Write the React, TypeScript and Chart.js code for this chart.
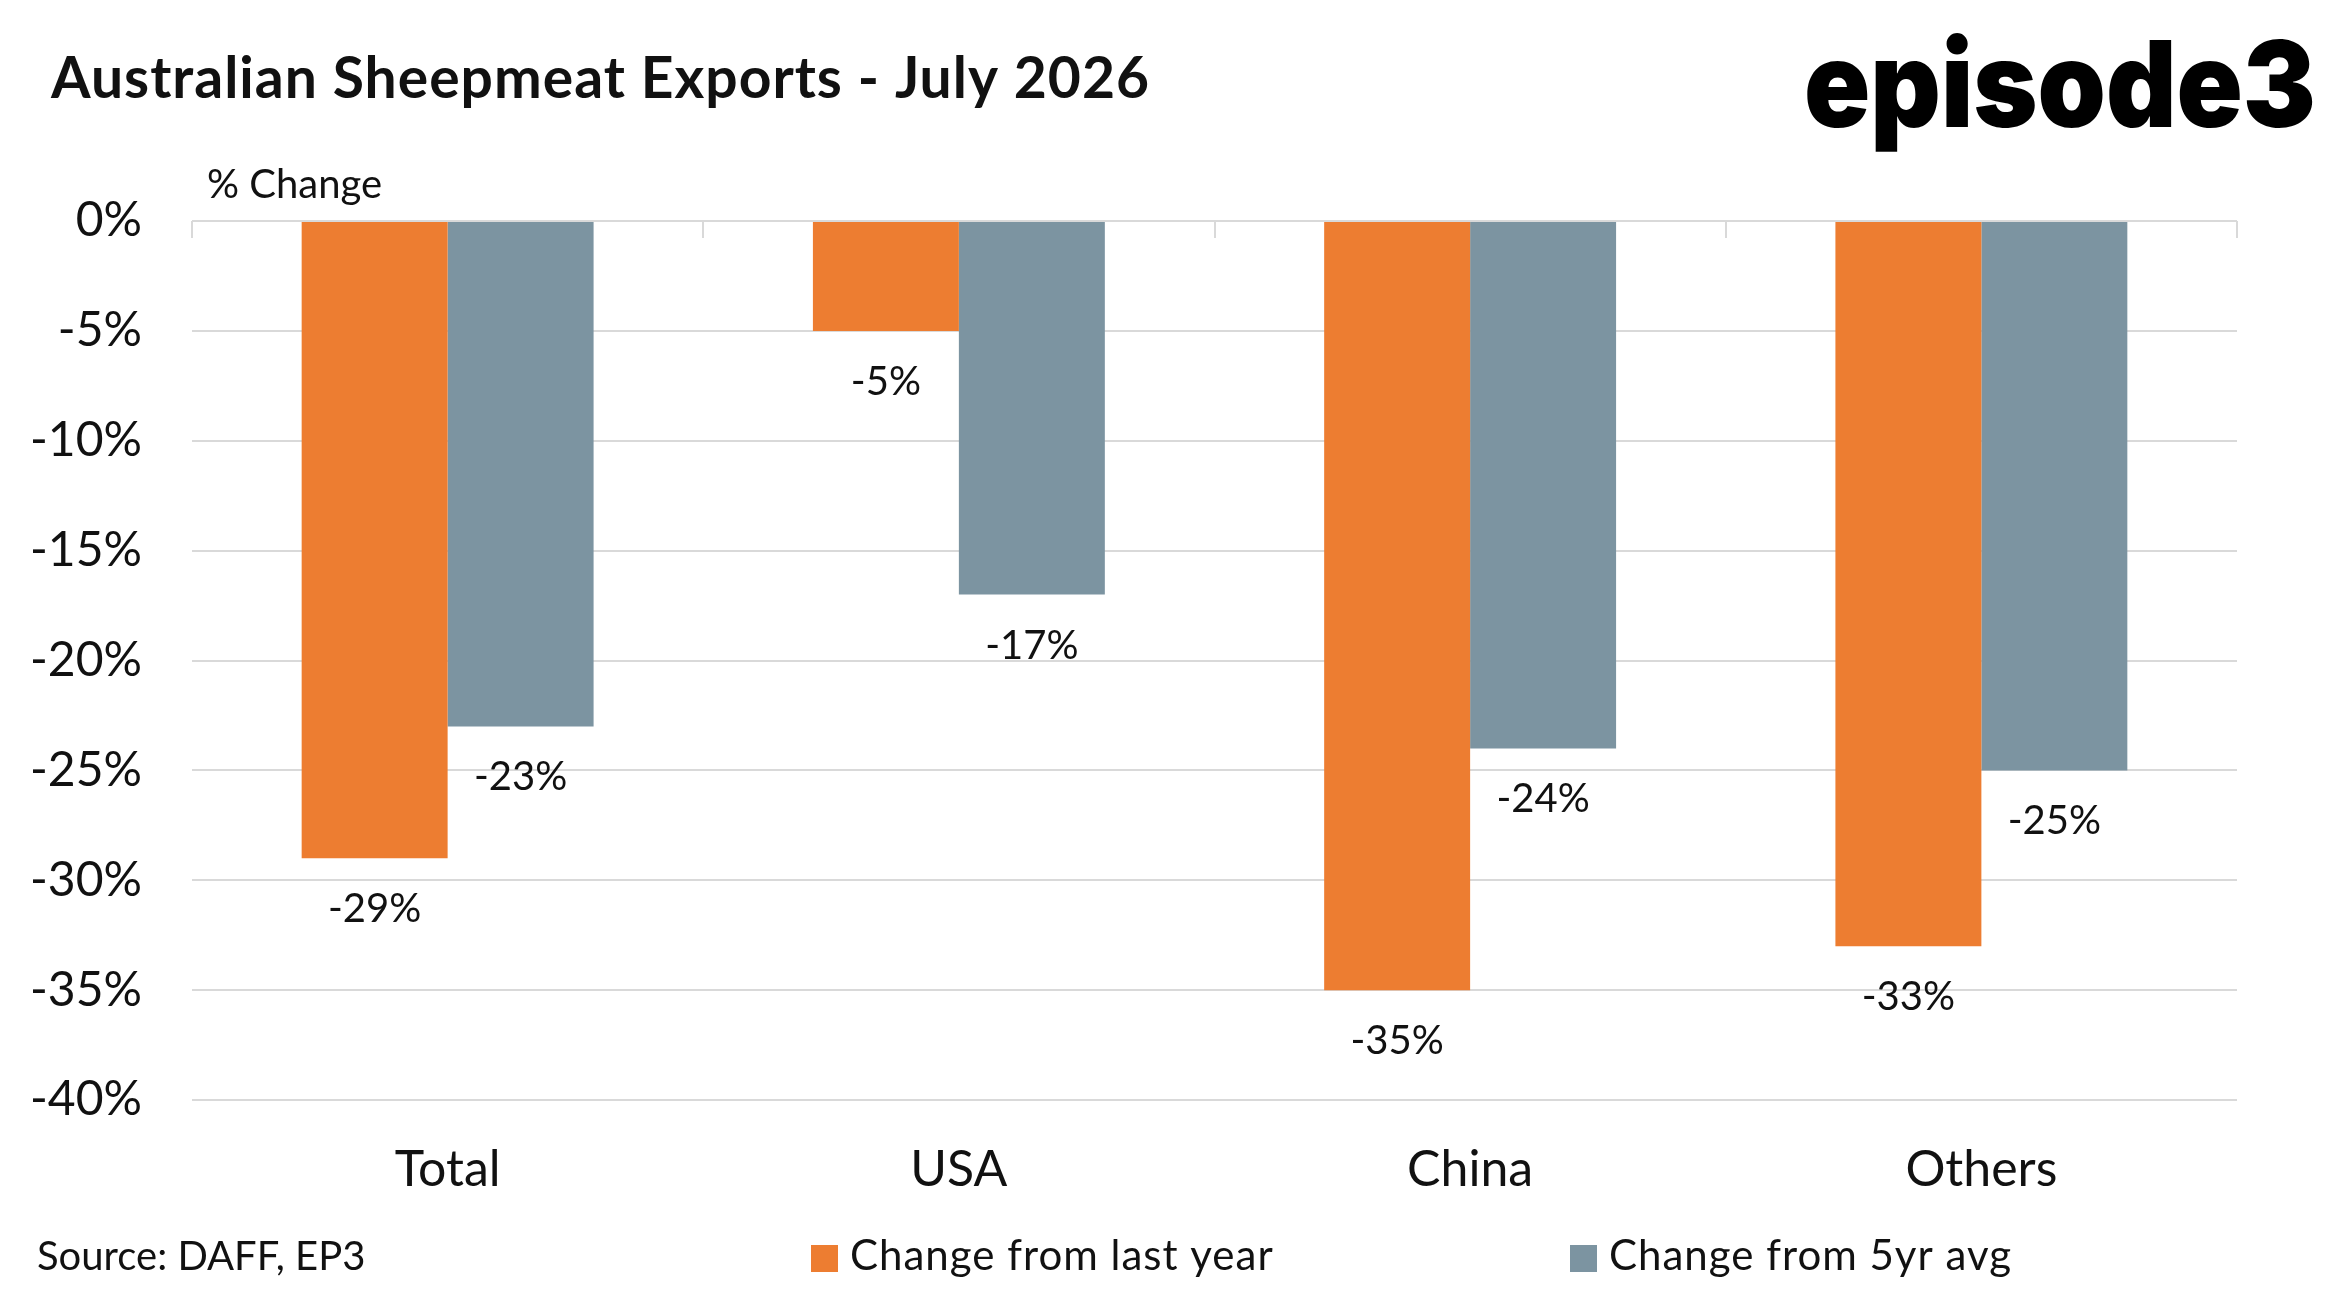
import React, { useEffect, useRef } from 'react';
import { Chart, registerables } from 'chart.js';

Chart.register(...registerables);

const categories = ['Total', 'USA', 'China', 'Others'];
const changeFromLastYear = [-29, -5, -35, -33];
const changeFrom5yrAvg = [-23, -17, -24, -25];
const seriesLabels = ['Change from last year', 'Change from 5yr avg'];
const yMin = -40;
const yMax = 0;
const yStep = 5;

const ORANGE = '#ED7D31';
const GREY = '#7C94A1';
const GRID = '#D9D9D9';
const TEXT = '#111111';
const FONT = 'Lato';

// title, logo, axis caption, source, legend, category ticks
const decorPlugin = {
    id: 'decor',
    afterDraw(chart: any) {
        const ctx = chart.ctx;
        const x = chart.scales.x;
        const y = chart.scales.y;
        ctx.save();
        ctx.fillStyle = TEXT;
        ctx.textAlign = 'left';
        ctx.textBaseline = 'alphabetic';

        ctx.font = `bold 57px ${FONT}`;
        ctx.letterSpacing = '1px';
        ctx.fillText('Australian Sheepmeat Exports - July 2026', 51, 98);
        ctx.letterSpacing = '0px';

        ctx.font = `40px ${FONT}`;
        ctx.fillText('% Change', 207, 198);
        ctx.fillText('Source: DAFF, EP3', 37, 1270);

        // logo
        ctx.font = `900 120px Inter`;
        const w = ctx.measureText('episode3').width;
        ctx.save();
        ctx.translate(1804, 127);
        ctx.scale(512 / w, 1);
        ctx.fillStyle = '#000';
        ctx.fillText('episode3', 0, 0);
        ctx.restore();

        // legend
        const legendX = [811, 1570];
        chart.data.datasets.forEach((ds: any, i: number) => {
            ctx.fillStyle = ds.backgroundColor;
            ctx.fillRect(legendX[i], 1245, 27, 27);
            ctx.fillStyle = TEXT;
            ctx.font = `42px ${FONT}`;
            ctx.letterSpacing = '1px';
            ctx.fillText(ds.label, legendX[i] + 39, 1270);
            ctx.letterSpacing = '0px';
        });

        // short tick marks at category boundaries under the 0 line
        const zero = y.getPixelForValue(0);
        const half = (x.getPixelForValue(1) - x.getPixelForValue(0)) / 2;
        ctx.strokeStyle = GRID;
        ctx.lineWidth = 2;
        for (let i = 0; i <= categories.length; i++) {
            const px = Math.round(x.getPixelForValue(i) - half);
            ctx.beginPath();
            ctx.moveTo(px, zero);
            ctx.lineTo(px, zero + 17);
            ctx.stroke();
        }
        ctx.restore();
    },
};

const valueLabels = {
    id: 'valueLabels',
    afterDatasetsDraw(chart: any) {
        const ctx = chart.ctx;
        ctx.save();
        ctx.fillStyle = TEXT;
        ctx.font = `40px ${FONT}`;
        ctx.textAlign = 'center';
        ctx.textBaseline = 'alphabetic';
        chart.data.datasets.forEach((ds: any, di: number) => {
            chart.getDatasetMeta(di).data.forEach((bar: any, i: number) => {
                ctx.fillText(ds.data[i] + '%', bar.x, bar.y + 64);
            });
        });
        ctx.restore();
    },
};

const App = () => {
    const chartRef = useRef<HTMLCanvasElement>(null);

    useEffect(() => {
        if (!chartRef.current) return;
        const ctx = chartRef.current.getContext('2d');
        if (!ctx) return;
        const chart = new Chart(ctx, {
            type: 'bar',
            data: {
                labels: categories,
                datasets: [
                    {
                        label: seriesLabels[0],
                        data: changeFromLastYear,
                        backgroundColor: ORANGE,
                        borderWidth: 0,
                    },
                    {
                        label: seriesLabels[1],
                        data: changeFrom5yrAvg,
                        backgroundColor: GREY,
                        borderWidth: 0,
                    },
                ],
            },
            options: {
                animation: false,
                responsive: true,
                maintainAspectRatio: false,
                datasets: {
                    bar: {
                        categoryPercentage: 0.571,
                        barPercentage: 1,
                    },
                },
                layout: {
                    padding: { top: 221, right: 114, bottom: 0, left: 0 },
                },
                plugins: {
                    legend: { display: false },
                    tooltip: { enabled: false },
                    title: { display: false },
                },
                scales: {
                    x: {
                        grid: { display: false },
                        border: { display: false },
                        ticks: {
                            color: TEXT,
                            font: { family: FONT, size: 50 },
                            padding: 32,
                        },
                        afterFit: (scale: any) => {
                            scale.height = 206;
                        },
                    },
                    y: {
                        min: yMin,
                        max: yMax,
                        grid: { color: GRID, lineWidth: 2, drawTicks: false },
                        border: { display: false },
                        ticks: {
                            stepSize: yStep,
                            color: TEXT,
                            font: { family: FONT, size: 48 },
                            padding: 50,
                            callback: (v: any) => v + '%',
                        },
                        afterFit: (scale: any) => {
                            scale.width = 192;
                        },
                    },
                },
            },
            plugins: [decorPlugin, valueLabels],
        });

        return () => {
            chart.destroy();
        };
    }, []);

    return (
        <div style={{ position: 'fixed', left: 0, top: 0, width: '100vw', height: '100vh', background: '#fff' }}>
            <canvas ref={chartRef} />
        </div>
    );
};

export default App;
